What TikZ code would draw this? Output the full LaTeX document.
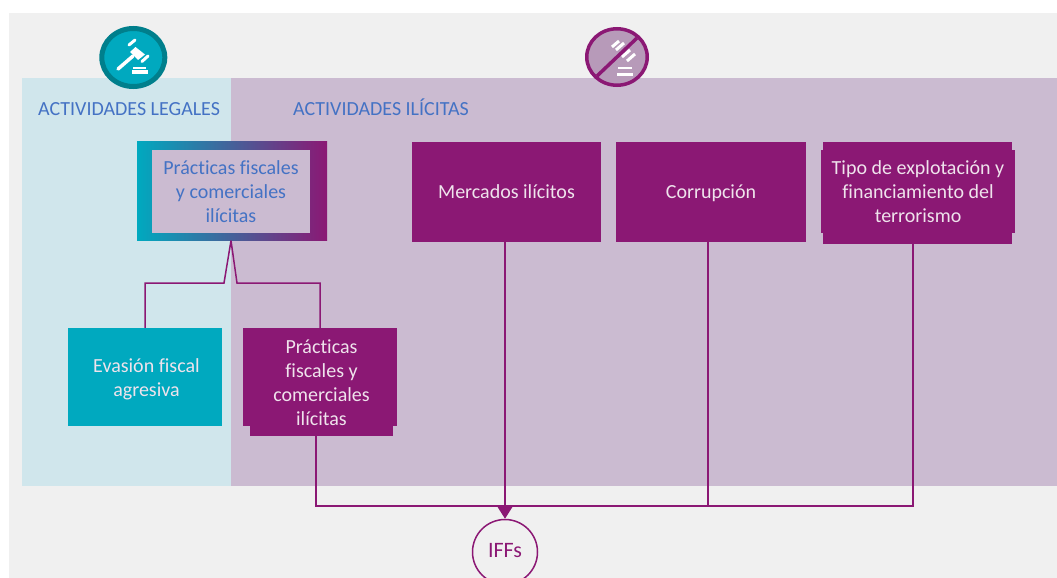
\documentclass[tikz,border=0pt]{standalone}
\usepackage{fontspec}
\setmainfont{Carlito}[Ligatures=NoCommon]
\usetikzlibrary{arrows.meta,shapes.geometric}
\definecolor{pagegrey}{HTML}{F0F0F0}
\definecolor{lightblue}{HTML}{D0E6EC}
\definecolor{lightpurple}{HTML}{CBBBD1}
\definecolor{teal}{HTML}{00A9BF}
\definecolor{darkteal}{HTML}{007F8C}
\definecolor{plum}{HTML}{8B1874}
\definecolor{midplum}{HTML}{B79AB9}
\definecolor{boxtext}{HTML}{EFE3EC}
\definecolor{bluetext}{HTML}{4472C4}
\tikzset{
  x=1pt,y=-1pt,
  txt/.style={font=\fontsize{20}{24}\selectfont,align=center,inner sep=0pt},
  plumbox/.style={txt,fill=plum,text=boxtext,minimum width=#1},
  tealbox/.style={txt,fill=teal,text=boxtext,minimum width=#1},
  tab/.style={fill=plum,inner sep=0pt,minimum width=#1},
  head/.style={font=\fontsize{20}{22}\selectfont,text=bluetext,inner sep=0pt,anchor=base west},
  link/.style={draw=plum,line width=1.5pt},
  gav/.style={draw=white,line width=#1},
  gav/.default=3pt
}
\begin{document}
\begin{tikzpicture}
\useasboundingbox (0,0) rectangle (1057,578);
\clip (0,0) rectangle (1057,578);
\fill[white] (0,0) rectangle (1057,578);
\fill[pagegrey] (9,13) rectangle (1057,578);
\fill[lightblue] (22,78) rectangle (231,486);
\fill[lightpurple] (231,78) rectangle (1057,486);

% icon legal
\node[ellipse,draw=darkteal,fill=teal,line width=5pt,minimum width=63pt,minimum height=58pt,inner sep=0pt] (legal) at (133.3,57.5) {};
\draw[gav=3.5pt,line cap=round] (118,69) -- (133,56);
\fill[white] (135.5,47) -- (145,54.5) -- (138,60) -- (130,52) -- cycle;
\draw[gav=3pt,line cap=round] (129,45) -- (135,40);
\draw[gav=3pt,line cap=round] (142,61.5) -- (148,56);
\draw[gav=1.5pt] (133,68) -- (146,68);
\draw[gav=3pt] (132,72) -- (148,72);

% icon illegal
\node[ellipse,draw=plum,fill=midplum,line width=3.5pt,minimum width=60.5pt,minimum height=56.5pt,inner sep=0pt] (illegal) at (617,57) {};
\draw[gav=3pt] (612,47) -- (619,41);
\draw[gav=3pt] (616,50) -- (624,43);
\draw[gav=3pt] (622,57) -- (630,50);
\draw[gav=3pt] (627,61) -- (635,54);
\draw[gav=1.5pt] (618,68) -- (632,68);
\draw[gav=3pt] (617,74) -- (633,74);
\draw[draw=plum,line width=3.5pt] (597,76) -- (637,38);

% headings
\node[head] (hlegal) at (38,115) {ACTIVIDADES LEGALES};
\node[head] (hilicit) at (293,115) {ACTIVIDADES ILÍCITAS};

% top boxes
\node[left color=teal,right color=plum,minimum width=190pt,minimum height=99pt,inner sep=0pt] (outer) at (232,191) {};
\node[txt,fill=lightpurple,text=bluetext,minimum width=158pt,minimum height=83pt] (inner) at (231,191.5) {Prácticas fiscales\\y comerciales\\ilícitas};
\node[plumbox=189pt,minimum height=100pt] (mercados) at (506.5,192) {Mercados ilícitos};
\node[plumbox=190pt,minimum height=100pt] (corrupcion) at (711,192) {};
\node[txt,text=boxtext] (corrtext) at (711,193.5) {Corrupción};
\node[tab=189pt,minimum height=102pt] (tipotab) at (917.5,193) {};
\node[plumbox=194pt,minimum height=83pt] (tipo) at (918,191.5) {Tipo de explotación y\\financiamiento del\\terrorismo};

% bottom boxes
\node[tealbox=154pt,minimum height=98pt] (evasion) at (145,377) {};
\node[txt,text=boxtext] (evtext) at (146.5,379.5) {Evasión fiscal\\agresiva};
\node[tab=143pt,minimum height=20pt] (ptab) at (321.5,426) {};
\node[plumbox=154pt,minimum height=98pt] (practicas) at (320,377) {};
\node[txt,text=boxtext] (ptext) at (321.5,383) {Prácticas\\fiscales y\\comerciales\\ilícitas};

% IFFs
\node[circle,draw=plum,fill=pagegrey,line width=1.5pt,minimum size=65pt,inner sep=0pt,text=plum,font=\fontsize{22}{24}\selectfont] (iffs) at (505,552) {\raisebox{2.5pt}{IFFs}};

% connectors
\coordinate (apex) at ([xshift=-1pt]outer.south);
\draw[link] (apex) -- (224,283) -| (evasion.north);
\draw[link] (apex) -- (237,283) -| (practicas.north);
\coordinate (busl) at (316,506);
\coordinate (busr) at (913,506);
\draw[link] (316,436) -- (busl) -- (busr) -- (913,244);
\draw[link] (708,242) -- (708,506);
\draw[link,-{Triangle[length=13pt,width=16pt]}] (505,242) -- (iffs.north);
\end{tikzpicture}
\end{document}
